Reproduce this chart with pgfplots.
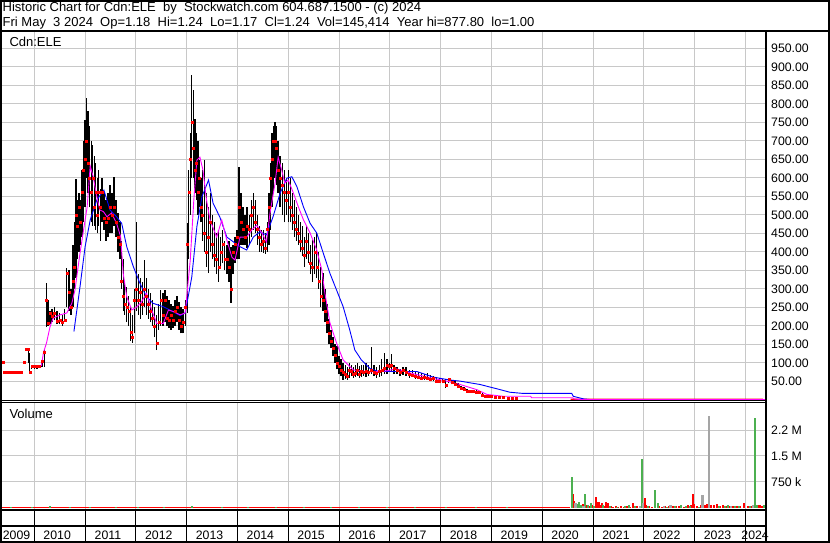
\documentclass[border=0pt]{standalone}
\usepackage{fontspec}
\setmainfont{Liberation Sans}
\usepackage{pgfplots}
\usepackage{pgfplotstable}
\pgfplotsset{compat=1.18}

\definecolor{gridgray}{RGB}{200,200,200}
\definecolor{volgreen}{RGB}{76,176,80}
\definecolor{volgray}{RGB}{165,165,165}
\definecolor{mafast}{RGB}{255,0,255}
\definecolor{maslow}{RGB}{0,0,255}

\newcommand\hdrfont{\fontsize{13}{15}\selectfont}
\newcommand\lblfont{\fontsize{12.3}{14}\selectfont}

% weekly-ish price bars: high, low, close
\pgfplotstableread{
x hi lo cl
2009.38 104 100 103
2009.41 76 74 75
2009.44 76 74 75
2009.47 76 74 75
2009.50 76 74 75
2009.53 76 74 75
2009.56 76 74 75
2009.62 76 74 75
2009.65 76 74 75
2009.71 76 74 75
2009.74 76 74 75
2009.80 104 100 103
2009.85 138 136 137
2009.88 138 100 137
2009.91 127 73 75
2009.95 95 85 92
2010.00 95 85 92
2010.05 92 85 90
2010.10 95 86 92
2010.15 105 88 104
2010.20 135 89 130
2010.24 316 197 270
2010.27 270 200 208
2010.31 240 205 235
2010.35 245 210 225
2010.40 250 215 235
2010.45 240 205 212
2010.50 235 205 215
2010.55 230 200 210
2010.60 245 210 215
2010.64 356 250 343
2010.68 350 240 290
2010.72 300 230 250
2010.76 420 250 320
2010.79 480 300 360
2010.82 597 330 500
2010.85 540 380 470
2010.88 560 400 520
2010.91 540 420 480
2010.94 620 440 560
2010.97 700 480 620
2011.00 756 520 650
2011.03 816 600 700
2011.06 780 560 640
2011.09 740 520 600
2011.12 700 480 560
2011.15 690 470 600
2011.18 660 470 520
2011.21 640 460 560
2011.24 600 450 500
2011.27 620 470 560
2011.30 570 430 520
2011.33 600 480 560
2011.37 560 460 490
2011.41 540 430 480
2011.45 560 440 490
2011.49 580 450 520
2011.53 560 450 500
2011.57 602 470 520
2011.61 540 440 480
2011.65 505 400 440
2011.69 480 380 420
2011.72 430 300 320
2011.75 380 240 280
2011.78 320 230 260
2011.82 305 210 250
2011.86 280 200 240
2011.90 251 160 184
2011.93 230 154 170
2011.97 300 180 270
2012.01 481 240 300
2012.05 340 230 270
2012.09 330 220 290
2012.13 320 230 260
2012.17 378 250 300
2012.21 330 230 280
2012.25 300 220 260
2012.29 290 210 240
2012.33 270 200 220
2012.37 250 170 198
2012.41 230 135 154
2012.45 260 190 210
2012.49 297 200 270
2012.53 290 200 230
2012.57 297 210 270
2012.61 280 200 220
2012.65 270 195 216
2012.69 260 190 230
2012.73 255 195 216
2012.77 270 200 240
2012.81 280 210 250
2012.85 265 190 216
2012.89 250 180 200
2012.93 245 180 210
2012.97 270 200 250
2013.01 478 235 420
2013.04 620 380 560
2013.07 720 500 650
2013.10 878 600 750
2013.13 837 600 680
2013.16 760 560 620
2013.19 720 540 640
2013.22 700 500 560
2013.25 648 520 600
2013.28 600 480 520
2013.31 620 430 500
2013.35 648 400 450
2013.39 560 360 400
2013.43 520 343 440
2013.47 560 400 480
2013.51 500 380 420
2013.55 480 360 390
2013.59 450 340 380
2013.63 460 320 360
2013.67 440 360 400
2013.71 460 370 420
2013.75 430 350 380
2013.79 420 340 380
2013.83 430 320 360
2013.87 413 262 300
2013.91 420 340 400
2013.95 440 370 420
2013.99 460 380 440
2014.03 629 380 520
2014.07 560 420 480
2014.11 520 420 460
2014.15 500 420 440
2014.19 520 410 470
2014.23 500 420 460
2014.27 540 440 500
2014.31 560 460 520
2014.35 540 450 480
2014.39 500 420 460
2014.43 470 400 440
2014.47 460 400 420
2014.51 460 397 430
2014.55 450 395 410
2014.59 480 400 460
2014.62 560 420 520
2014.65 640 460 600
2014.68 721 520 650
2014.71 740 560 700
2014.74 751 600 700
2014.77 740 580 680
2014.80 700 560 620
2014.84 660 520 600
2014.88 640 500 580
2014.92 620 480 560
2014.96 600 500 540
2015.00 621 480 560
2015.04 600 480 520
2015.08 560 460 500
2015.12 540 440 480
2015.16 520 430 460
2015.20 500 420 450
2015.24 480 400 430
2015.28 470 390 410
2015.32 440 360 390
2015.36 470 380 430
2015.40 450 370 400
2015.44 420 340 370
2015.48 432 320 360
2015.52 440 340 400
2015.56 450 330 360
2015.60 400 300 320
2015.64 360 250 280
2015.68 343 240 270
2015.72 300 210 240
2015.76 260 180 210
2015.80 220 150 180
2015.84 190 140 160
2015.88 170 120 140
2015.92 150 100 120
2015.96 145 83 100
2016.00 120 70 90
2016.04 110 65 80
2016.08 100 55 75
2016.12 95 58 70
2016.16 90 55 65
2016.20 100 60 80
2016.24 95 65 78
2016.28 90 60 70
2016.32 95 62 72
2016.36 100 65 80
2016.40 92 60 70
2016.44 95 62 78
2016.48 95 65 75
2016.53 100 62 78
2016.58 95 65 75
2016.64 142 70 80
2016.69 95 65 75
2016.74 90 60 72
2016.79 95 62 78
2016.84 110 65 80
2016.89 128 70 85
2016.94 110 70 95
2016.99 100 75 90
2017.03 123 75 95
2017.08 95 70 85
2017.14 90 70 80
2017.20 85 65 75
2017.26 90 68 80
2017.32 88 65 75
2017.38 80 60 70
2017.44 82 62 68
2017.50 78 58 65
2017.56 75 58 62
2017.62 72 55 60
2017.68 70 55 62
2017.74 72 56 60
2017.80 68 50 55
2017.86 66 50 58
2017.92 62 48 52
2017.98 60 48 52
2018.04 58 45 50
2018.10 56 33 40
2018.16 60 45 55
2018.22 55 42 48
2018.28 50 38 42
2018.34 45 32 36
2018.40 38 28 32
2018.46 34 25 28
2018.52 30 22 25
2018.58 28 21 24
2018.64 27 20 23
2018.70 26 19 22
2018.76 24 18 20
2018.82 18 12 14
2018.88 13 9 10
2018.94 11 8 10
2019.00 10 7 9
2019.08 9 7 8
2019.16 9 6 7
2019.24 8 6 7
2019.32 7 5 6
2019.40 6 5 5
2019.48 6 4 5
}\pricebars

% closes after trading resumed
\pgfplotstableread{
x cl
2020.56 1.3
2020.80 1.2
2021.05 1.3
2021.30 1.2
2021.55 1.2
2021.80 1.3
2022.05 1.2
2022.30 1.2
2022.55 1.1
2022.80 1.2
2023.05 1.2
2023.30 1.3
2023.55 1.2
2023.80 1.2
2024.05 1.2
2024.34 1.24
}\pricelate

\pgfplotstableread{
x v
2020.60 393000
2020.63 200000
2020.66 150000
2020.70 125000
2020.74 90000
2020.80 110000
2020.88 95000
2020.93 60000
2020.98 80000
2021.05 325000
2021.08 180000
2021.11 185000
2021.14 95000
2021.18 130000
2021.22 60000
2021.26 180000
2021.30 130000
2021.35 60000
2021.40 40000
2021.45 50000
2021.50 30000
2021.55 45000
2021.60 35000
2021.66 60000
2021.72 40000
2021.78 130000
2021.86 50000
2022.02 277000
2022.05 95000
2022.10 60000
2022.16 40000
2022.30 50000
2022.36 40000
2022.42 60000
2022.50 45000
2022.58 70000
2022.64 70000
2022.70 50000
2022.78 40000
2022.86 80000
2022.92 90000
2022.96 403000
2022.99 110000
2023.05 60000
2023.12 80000
2023.20 90000
2023.24 110000
2023.33 100000
2023.38 80000
2023.44 120000
2023.50 60000
2023.56 90000
2023.62 70000
2023.70 50000
2023.76 60000
2023.84 70000
2023.90 60000
2023.98 130000
2024.05 60000
2024.12 50000
2024.24 90000
2024.28 100000
2024.32 70000
}\volred

\pgfplotstableread{
x v
2009.55 40000
2009.95 30000
2010.30 45000
2010.70 35000
2011.10 40000
2011.60 30000
2012.05 40000
2012.55 35000
2013.10 45000
2013.70 30000
2014.20 40000
2014.75 35000
2015.30 40000
2015.85 30000
2016.40 35000
2016.95 40000
2017.50 30000
2018.10 35000
2018.70 30000
2019.30 30000
2020.58 903000
2020.68 110000
2020.72 170000
2020.77 100000
2020.85 393000
2020.90 80000
2020.95 150000
2021.02 60000
2021.20 90000
2021.33 50000
2021.48 40000
2021.62 60000
2021.70 100000
2021.82 50000
2021.96 1410000
2022.08 60000
2022.22 519000
2022.27 150000
2022.46 40000
2022.62 50000
2022.74 90000
2022.82 60000
2022.90 50000
2023.09 40000
2023.48 50000
2023.60 60000
2023.66 90000
2023.80 50000
2023.88 60000
2024.08 60000
2024.19 2600000
2024.22 80000
2024.36 90000
}\volgreen

\pgfplotstableread{
x v
2020.65 130000
2020.81 60000
2021.92 60000
2021.98 150000
2022.40 60000
2022.52 90000
2023.15 375000
2023.28 2660000
2023.72 50000
2024.15 100000
}\volgrayt

\pgfplotsset{
  panel/.style={
    scale only axis, anchor=south west,
    xmin=2009.364, xmax=2024.404,
    axis line style={draw=none}, tick style={draw=none},
    xtick={2010,...,2024}, xticklabels={},
    grid=major, major grid style={gridgray, line width=1pt},
    yticklabel pos=right,
    yticklabel style={anchor=west, inner sep=0pt, xshift=5pt, font=\lblfont},
    scaled y ticks=false,
  },
}

\begin{document}
\begin{tikzpicture}
\path[use as bounding box, fill=white] (0pt,0pt) rectangle (830pt,543pt);

% price panel
\begin{axis}[panel, at={(2pt,143pt)}, width=764pt, height=368pt,
  ymin=0, ymax=994,
  ytick={50,100,...,950},
  yticklabels={50.00,100.00,150.00,200.00,250.00,300.00,350.00,400.00,450.00,500.00,550.00,600.00,650.00,700.00,750.00,800.00,850.00,900.00,950.00}]
  \addplot[draw=none, mark=none, error bars/.cd, y dir=plus, y explicit,
    error mark=none, error bar style={draw=black, line width=1.35pt}]
    table[x=x, y=lo, y error expr=\thisrow{hi}-\thisrow{lo}] {\pricebars};
  \addplot[only marks, mark=square*, mark size=1pt, red, mark options={draw=none, fill=red}]
    table[x=x, y=cl] {\pricebars};
  \addplot[red, line width=1.8pt] table[x=x, y=cl] {\pricelate};
  \addplot[maslow, line width=0.9pt] coordinates {
    (2010.78,185) (2010.90,306) (2011.00,414) (2011.10,486) (2011.23,540)
    (2011.37,567) (2011.49,513) (2011.62,495) (2011.72,477) (2011.82,414)
    (2011.95,360) (2012.08,315) (2012.21,279) (2012.34,261) (2012.54,252)
    (2012.67,243) (2012.87,228) (2012.97,235) (2013.10,332) (2013.20,468)
    (2013.30,549) (2013.43,594) (2013.52,531) (2013.65,495) (2013.79,440)
    (2013.92,427) (2014.05,414) (2014.18,405) (2014.31,440) (2014.44,454)
    (2014.57,446) (2014.70,495) (2014.84,559) (2014.97,599) (2015.07,603)
    (2015.17,576) (2015.30,521) (2015.43,477) (2015.56,451) (2015.69,396)
    (2015.82,342) (2015.95,297) (2016.08,252) (2016.21,189) (2016.31,135)
    (2016.44,108) (2016.61,85) (2016.75,78) (2017.00,77) (2017.53,77)
    (2017.85,62) (2018.18,54) (2018.38,51) (2018.77,42) (2019.17,28)
    (2019.36,21) (2019.60,18) (2020.58,18) (2020.61,10) (2020.81,3)
    (2020.95,1.2) (2024.40,1.2)};
  \addplot[mafast, line width=0.9pt] coordinates {
    (2009.95,92) (2010.08,90) (2010.14,93) (2010.18,128) (2010.24,154)
    (2010.31,198) (2010.37,221) (2010.51,230) (2010.64,235) (2010.74,262)
    (2010.80,297) (2010.90,397) (2010.96,451) (2011.04,521) (2011.10,632)
    (2011.16,603) (2011.23,549) (2011.29,513) (2011.36,509) (2011.43,495)
    (2011.52,505) (2011.62,477) (2011.70,441) (2011.75,342) (2011.82,279)
    (2011.92,243) (2012.02,252) (2012.11,265) (2012.21,288) (2012.31,243)
    (2012.41,207) (2012.54,207) (2012.64,243) (2012.74,239) (2012.87,230)
    (2012.97,235) (2013.07,378) (2013.14,540) (2013.20,648) (2013.26,656)
    (2013.32,621) (2013.39,540) (2013.46,486) (2013.59,440) (2013.69,486)
    (2013.79,432) (2013.89,386) (2013.95,378) (2014.05,440) (2014.18,440)
    (2014.28,459) (2014.38,472) (2014.48,451) (2014.57,427) (2014.64,505)
    (2014.74,586) (2014.80,656) (2014.87,621) (2014.93,586) (2015.00,594)
    (2015.10,559) (2015.20,521) (2015.30,486) (2015.43,451) (2015.56,405)
    (2015.66,351) (2015.72,289) (2015.82,208) (2015.95,154) (2016.08,108)
    (2016.28,81) (2016.61,76) (2016.90,78) (2017.13,84) (2017.40,73)
    (2017.79,60) (2018.12,51) (2018.38,42) (2018.71,28) (2018.91,15)
    (2019.23,10) (2019.77,10) (2019.79,6) (2020.60,6) (2020.62,3)
    (2020.75,1.2) (2024.40,1.2)};
\end{axis}

% volume panel
\begin{axis}[panel, at={(2pt,33pt)}, width=764pt, height=107pt,
  ymin=-57700, ymax=3029000,
  ytick={750000,1500000,2250000},
  yticklabels={750 k,1.5 M,2.2 M}]
  \addplot[red, line width=1.4pt] coordinates {(2009.36,15000) (2020.55,15000)};
  \addplot[ycomb, red, line width=2pt] table[x=x, y=v] {\volred};
  \addplot[ycomb, volgreen, line width=2pt] table[x=x, y=v] {\volgreen};
  \addplot[ycomb, volgray, line width=2.4pt] table[x=x, y=v] {\volgrayt};
\end{axis}

% year row
\begin{axis}[scale only axis, anchor=south west, at={(2pt,2pt)}, width=764pt, height=31pt,
  xmin=2009.364, xmax=2024.404, ymin=0, ymax=1,
  axis line style={draw=none}, tick style={draw=none}, ytick=\empty,
  xtick={2009.65,2010.45,2011.45,2012.45,2013.45,2014.45,2015.45,2016.45,2017.45,2018.45,2019.45,2020.45,2021.45,2022.45,2023.45,2024.19},
  xticklabels={2009,2010,2011,2012,2013,2014,2015,2016,2017,2018,2019,2020,2021,2022,2023,2024},
  minor xtick={2010,...,2024}, xminorgrids=true,
  minor grid style={black, line width=1pt},
  xticklabel style={anchor=base, inner sep=0pt, yshift=1.7pt, font=\lblfont}]
  \addplot[draw=none] coordinates {(2010,0.5)};
\end{axis}

% frame
\draw[line width=2pt] (1pt,1pt) rectangle (829pt,542pt);
\draw[line width=2pt] (0pt,512pt) -- (830pt,512pt);
\draw[line width=2pt] (766pt,512pt) -- (766pt,0pt);
\draw[line width=1pt] (0pt,142.3pt) -- (766pt,142.3pt);
\draw[line width=1pt] (0pt,140.3pt) -- (766pt,140.3pt);
\draw[line width=2pt] (0pt,33pt) -- (766pt,33pt);
\draw[line width=2pt] (0pt,17pt) -- (766pt,17pt);

\node[anchor=base west, inner sep=0pt, font=\hdrfont] at (2.5pt,531pt)
  {Historic Chart for Cdn:ELE~ by~ Stockwatch.com 604.687.1500 - (c) 2024};
\node[anchor=base west, inner sep=0pt, font=\hdrfont] at (2.5pt,516.5pt)
  {Fri May~ 3 2024~ Op=1.18~ Hi=1.24~ Lo=1.17~ Cl=1.24~ Vol=145,414~ Year hi=877.80~ lo=1.00};
\node[anchor=base west, inner sep=0pt, font=\hdrfont] at (9.3pt,496.5pt) {Cdn:ELE};
\node[anchor=base west, inner sep=0pt, font=\hdrfont] at (9.3pt,124.7pt) {Volume};
\end{tikzpicture}
\end{document}
